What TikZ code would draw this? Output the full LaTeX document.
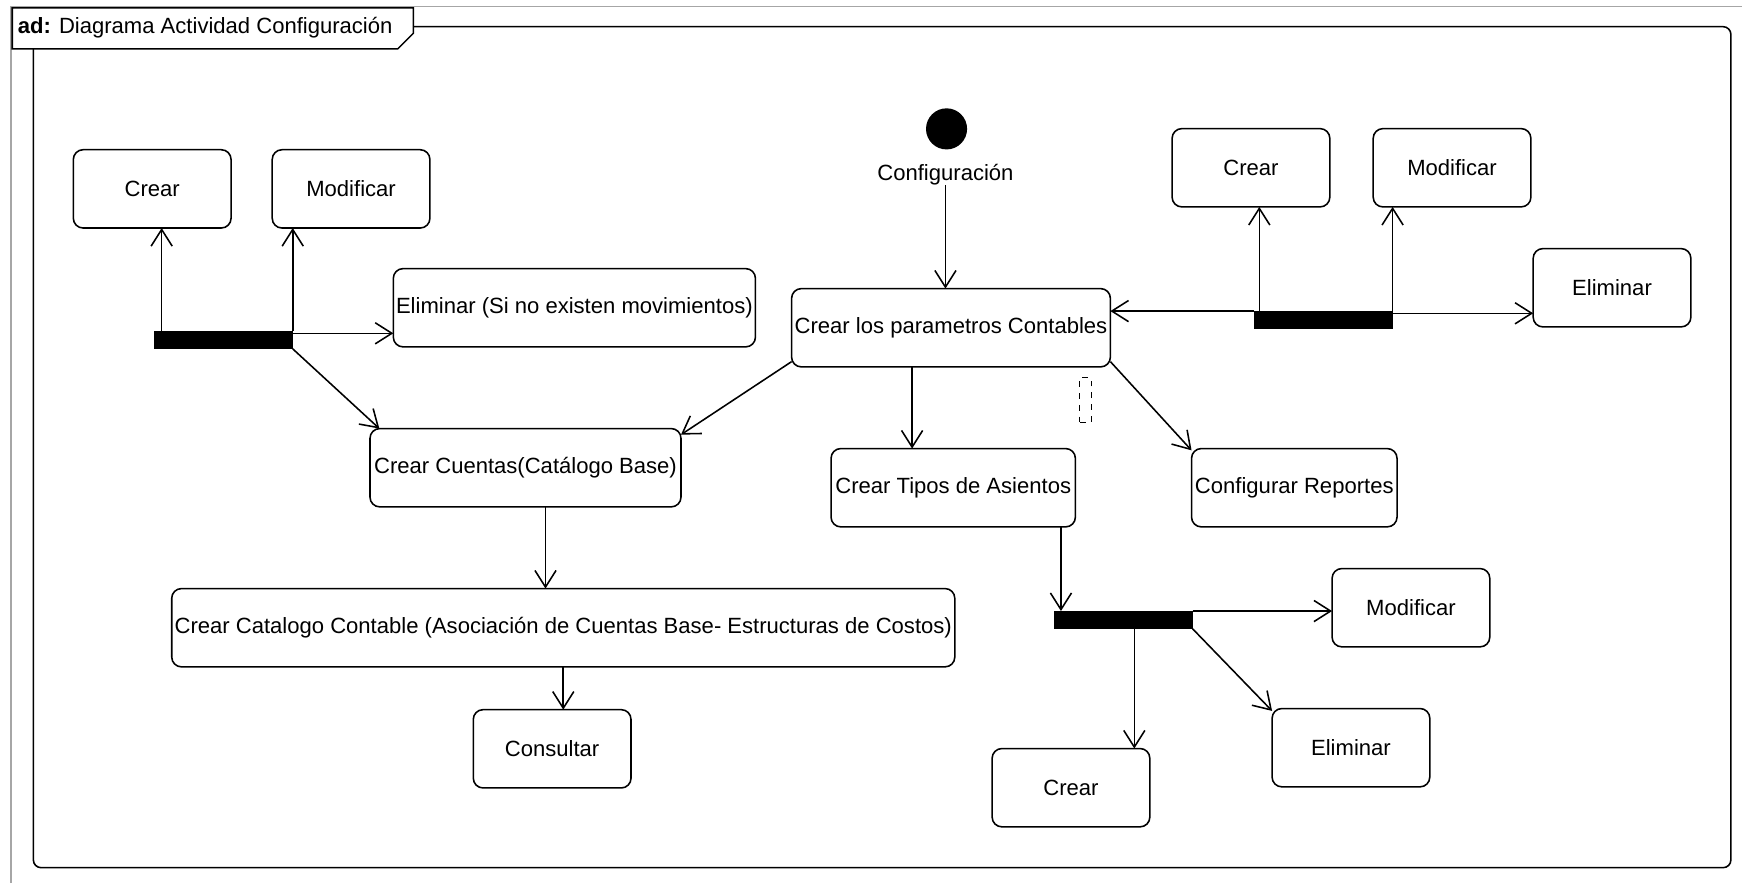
\documentclass[tikz,border=0pt]{standalone}
\usepackage{fontspec}
\setmainfont{Liberation Sans}
\usetikzlibrary{arrows.meta,calc}

\begin{document}
\begin{tikzpicture}[x=0.02cm,y=-0.02cm,inner sep=0pt,outer sep=0pt,line width=0.8pt,
font=\fontsize{11.3}{13}\selectfont,
>={Straight Barb[length=0.3cm,width=0.38cm]},
actbox/.style={draw,rectangle,rounded corners=5pt,inner xsep=1pt,minimum width=2.84cm,minimum height=1.41cm},
forkbar/.style={fill=black,rectangle,minimum width=2.5cm,minimum height=0.32cm}]

\useasboundingbox (0,0) rectangle (1568,795);
\draw[gray!70] (10,795) -- (10,6) -- (1568,6);
\draw[rounded corners=4pt] (30,44) -- (30,781) -- (1558,781) -- (1558,24) -- (372,24);
\draw[fill=white] (11,7) -- (372,7) -- (372,30) -- (358,44) -- (11,44) -- cycle;
\draw (16,25) node[anchor=west] (title) {\textbf{ad:} Diagrama Actividad Configuración};

% left group
\draw (137,170) node[actbox] (crearL) {Crear};
\draw (316,170) node[actbox] (modL) {Modificar};
\draw (517,277) node[actbox,minimum width=6.52cm] (elimL) {Eliminar (Si no existen movimientos)};
\draw (201,306) node[forkbar] (barL) {};

% center
\draw (852,116) node[fill=black,circle,minimum size=0.74cm] (start) {};
\draw (851,157) node (config) {Configuración};
\draw (856,295) node[actbox,minimum width=5.74cm] (params) {Crear los parametros Contables};
\draw (977,360) node[draw,dashed,thin,minimum width=0.2cm,minimum height=0.8cm] (guard) {};
\draw (473,421) node[actbox,minimum width=5.6cm] (cuentas) {Crear Cuentas(Catálogo Base)};
\draw (858,439) node[actbox,minimum width=4.4cm] (tipos) {Crear Tipos de Asientos};
\draw (1165,439) node[actbox,minimum width=3.7cm] (reportes) {Configurar Reportes};
\draw (507,565) node[actbox,minimum width=14.1cm] (catalogo) {Crear Catalogo Contable (Asociación de Cuentas Base- Estructuras de Costos)};
\draw (497,674) node[actbox] (consultar) {Consultar};

% right group
\draw (1126,151) node[actbox] (crearR) {Crear};
\draw (1307,151) node[actbox] (modR) {Modificar};
\draw (1451,259) node[actbox] (elimR) {Eliminar};
\draw (1191,288) node[forkbar] (barR) {};

% lower right group
\draw (1011,558) node[forkbar] (barB) {};
\draw (1270,547) node[actbox] (modB) {Modificar};
\draw (1216,673) node[actbox] (elimB) {Eliminar};
\draw (964,709) node[actbox] (crearB) {Crear};

\draw[->] ($(barL.north west)+(7,0)$) coordinate (l1) -- (l1 |- crearL.south);
\draw[->] (barL.north east) -- (barL.north east |- modL.south);
\draw[->] ($(barL.north east)+(0,2)$) coordinate (l2) -- (l2 -| elimL.west);
\draw[->] (barL.south east) -- (cuentas.165);
\draw[->] (config.south) -- (config.south |- params.north);
\draw[->] (params.192) -- (cuentas.12);
\draw[->] ($(params.south)+(-35,0)$) coordinate (p1) -- (p1 |- tipos.north);
\draw[->] (params.-12) -- (reportes.160);
\draw[->] ($(cuentas.south)+(18,0)$) coordinate (c1) -- (c1 |- catalogo.north);
\draw[->] (catalogo.south) -- (catalogo.south |- consultar.north);
\draw[->] (barR.north west) -- (barR.north west -| params.east);
\draw[->] ($(barR.north west)+(5,0)$) coordinate (r1) -- (r1 |- crearR.south);
\draw[->] (barR.north east) -- (barR.north east |- modR.south);
\draw[->] ($(barR.north east)+(0,2)$) coordinate (r2) -- (r2 -| elimR.west);
\draw[->] ($(tipos.south east)+(-13,0)$) coordinate (t1) -- (t1 |- barB.north);
\draw[->] (barB.north east) -- (barB.north east -| modB.west);
\draw[->] ($(barB.south)+(10,0)$) coordinate (b1) -- (b1 |- crearB.north);
\draw[->] (barB.south east) -- (elimB.155);
\end{tikzpicture}
\end{document}
